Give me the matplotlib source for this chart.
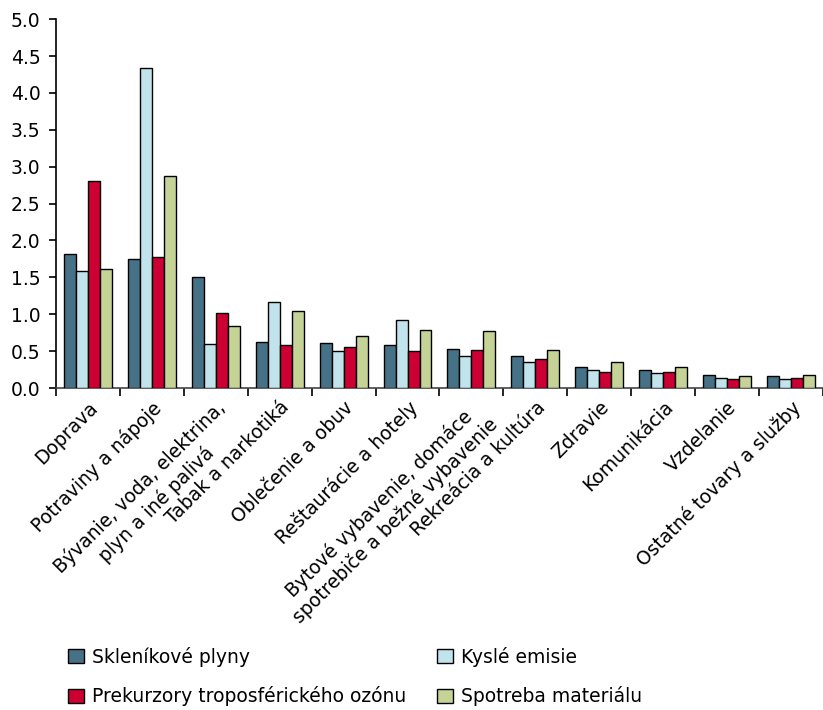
import matplotlib
matplotlib.use("Agg")
import matplotlib.pyplot as plt
import numpy as np
from matplotlib.patches import Patch
import matplotlib.transforms as mtransforms

categories = ["Doprava", "Potraviny a nápoje", "Bývanie, voda, elektrina,\nplyn a iné palivá",
              "Tabak a narkotiká", "Oblečenie a obuv", "Reštaurácie a hotely",
              "Bytové vybavenie, domáce\nspotrebiče a bežné vybavenie", "Rekreácia a kultúra",
              "Zdravie", "Komunikácia", "Vzdelanie", "Ostatné tovary a služby"]
series_names = ["Skleníkové plyny", "Kyslé emisie",
                "Prekurzory troposférického ozónu", "Spotreba materiálu"]
skleníkové = [1.81, 1.75, 1.50, 0.63, 0.61, 0.585, 0.535, 0.43, 0.28, 0.24, 0.18, 0.16]
kyslé = [1.58, 4.34, 0.60, 1.17, 0.50, 0.92, 0.43, 0.35, 0.24, 0.20, 0.14, 0.12]
ozón = [2.80, 1.77, 1.02, 0.585, 0.56, 0.50, 0.52, 0.39, 0.22, 0.22, 0.12, 0.14]
materiál = [1.61, 2.88, 0.84, 1.04, 0.71, 0.79, 0.77, 0.52, 0.35, 0.28, 0.16, 0.18]
colors = ["#457286", "#c1e4ec", "#cc0033", "#c5d397"]

plt.rcParams['font.family'] = ['DejaVu Sans']
fs = 13.5
fig = plt.figure(figsize=(8.23, 7.10), dpi=100)
ax = fig.add_axes([0.068, 0.4535, 0.932, 0.5195])

x = np.arange(len(categories))
w = 0.1875
data = [skleníkové, kyslé, ozón, materiál]
for i, vals in enumerate(data):
    ax.bar(x + (i - 1.5) * w, vals, w, color=colors[i], edgecolor="black", linewidth=1.0, zorder=3)

ax.set_xlim(-0.5, len(categories) - 0.5)
ax.set_ylim(0, 5.0)
ax.set_yticks(np.arange(0, 5.01, 0.5))
ax.set_yticklabels(["%.1f" % v for v in np.arange(0, 5.01, 0.5)], fontsize=fs)
ax.set_xticks(x)
ax.set_xticklabels(categories, rotation=45, ha="right", va="top", rotation_mode="anchor",
                   fontsize=fs, multialignment="center")
# shift the labels a bit to the right like in the original
offset = mtransforms.ScaledTranslation(5 / 100, 0, fig.dpi_scale_trans)
for lbl in ax.get_xticklabels():
    lbl.set_transform(lbl.get_transform() + offset)
ax.tick_params(axis="x", which="major", length=0, pad=7)
ax.set_xticks(np.arange(-0.5, len(categories)), minor=True)
ax.tick_params(axis="x", which="minor", length=6, width=1.2, direction="out")
ax.tick_params(axis="y", length=5, width=1.2, direction="out", pad=6)
for s in ["top", "right"]:
    ax.spines[s].set_visible(False)
ax.spines["left"].set_linewidth(1.2)
ax.spines["bottom"].set_linewidth(1.2)
ax.spines["bottom"].set_color("#444444")

handles = [Patch(facecolor=c, edgecolor="black") for c in colors]
order = [0, 2, 1, 3]
fig.legend([handles[i] for i in order], [series_names[i] for i in order],
           loc="lower left", bbox_to_anchor=(0.065, -0.016),
           ncol=2, frameon=False, fontsize=fs, columnspacing=1.65, handlelength=0.85,
           handleheight=0.8, handletextpad=0.4, labelspacing=1.05, borderpad=0.3)

fig.savefig("out.png", dpi=100)
